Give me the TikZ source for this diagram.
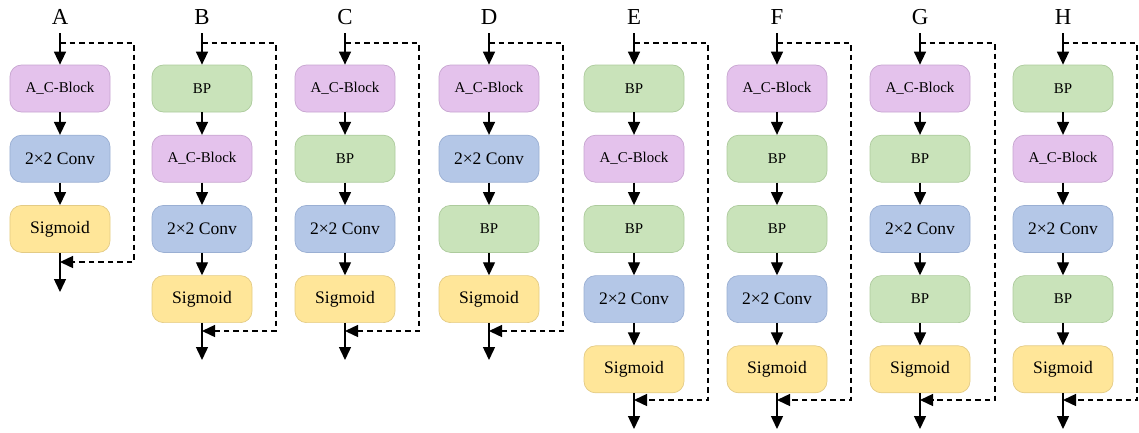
\documentclass[tikz,border=0pt]{standalone}
\usepackage{fontspec}
\setmainfont{Liberation Serif}
\usetikzlibrary{positioning,arrows.meta}
\definecolor{acbfill}{HTML}{E4C2EC}
\definecolor{acbline}{HTML}{C7A5D0}
\definecolor{convfill}{HTML}{B4C7E7}
\definecolor{convline}{HTML}{9AAFD3}
\definecolor{bpfill}{HTML}{C9E3BA}
\definecolor{bpline}{HTML}{ADCB9D}
\definecolor{sigfill}{HTML}{FFE699}
\definecolor{sigline}{HTML}{E3CB85}

\begin{document}
\begin{tikzpicture}[x=0.2mm,y=-0.2mm,node distance=4.5mm,
  blk/.style={rectangle,rounded corners=2.3mm,minimum width=20mm,minimum height=9.4mm,inner sep=1pt,line width=0.4pt},
  acb/.style={blk,draw=acbline,fill=acbfill,font=\fontsize{8.5}{10}\selectfont},
  conv/.style={blk,draw=convline,fill=convfill,font=\fontsize{10}{12}\selectfont},
  bp/.style={blk,draw=bpline,fill=bpfill,font=\fontsize{8.5}{10}\selectfont},
  sig/.style={blk,draw=sigline,fill=sigfill,font=\fontsize{10}{12}\selectfont},
  lab/.style={font=\fontsize{13}{15}\selectfont,inner sep=0pt},
  flow/.style={line width=0.8pt,-{Triangle[length=2.6mm,width=2.4mm]}},
  skip/.style={flow,dash pattern=on 1.1mm off 0.8mm}]
  \useasboundingbox (0,0) rectangle (1139,432);

  % A
  \node[lab] (Al) at (60,17) {A};
  \coordinate (Ain) at (60,33);
  \coordinate (As) at (60,43);
  \node[acb] (A1) at (60,88.5) {A\_C-Block};
  \node[conv,below=of A1] (A2) {2×2 Conv};
  \node[sig,below=of A2] (A3) {Sigmoid};
  \coordinate (Ar) at (60,262);
  \coordinate (Aout) at (60,292);
  \draw[flow] (Ain) -- (A1);
  \draw[flow] (A1) -- (A2);
  \draw[flow] (A2) -- (A3);
  \draw[flow] (A3) -- (Aout);
  \draw[skip] (As) -- ++(74,0) |- (Ar);

  % B
  \node[lab] (Bl) at (202,17) {B};
  \coordinate (Bin) at (202,33);
  \coordinate (Bs) at (202,43);
  \node[bp] (B1) at (202,88.5) {BP};
  \node[acb,below=of B1] (B2) {A\_C-Block};
  \node[conv,below=of B2] (B3) {2×2 Conv};
  \node[sig,below=of B3] (B4) {Sigmoid};
  \coordinate (Br) at (202,331);
  \coordinate (Bout) at (202,360);
  \draw[flow] (Bin) -- (B1);
  \draw[flow] (B1) -- (B2);
  \draw[flow] (B2) -- (B3);
  \draw[flow] (B3) -- (B4);
  \draw[flow] (B4) -- (Bout);
  \draw[skip] (Bs) -- ++(74,0) |- (Br);

  % C
  \node[lab] (Cl) at (345,17) {C};
  \coordinate (Cin) at (345,33);
  \coordinate (Cs) at (345,43);
  \node[acb] (C1) at (345,88.5) {A\_C-Block};
  \node[bp,below=of C1] (C2) {BP};
  \node[conv,below=of C2] (C3) {2×2 Conv};
  \node[sig,below=of C3] (C4) {Sigmoid};
  \coordinate (Cr) at (345,331);
  \coordinate (Cout) at (345,360);
  \draw[flow] (Cin) -- (C1);
  \draw[flow] (C1) -- (C2);
  \draw[flow] (C2) -- (C3);
  \draw[flow] (C3) -- (C4);
  \draw[flow] (C4) -- (Cout);
  \draw[skip] (Cs) -- ++(74,0) |- (Cr);

  % D
  \node[lab] (Dl) at (489,17) {D};
  \coordinate (Din) at (489,33);
  \coordinate (Ds) at (489,43);
  \node[acb] (D1) at (489,88.5) {A\_C-Block};
  \node[conv,below=of D1] (D2) {2×2 Conv};
  \node[bp,below=of D2] (D3) {BP};
  \node[sig,below=of D3] (D4) {Sigmoid};
  \coordinate (Dr) at (489,331);
  \coordinate (Dout) at (489,360);
  \draw[flow] (Din) -- (D1);
  \draw[flow] (D1) -- (D2);
  \draw[flow] (D2) -- (D3);
  \draw[flow] (D3) -- (D4);
  \draw[flow] (D4) -- (Dout);
  \draw[skip] (Ds) -- ++(74,0) |- (Dr);

  % E
  \node[lab] (El) at (634,17) {E};
  \coordinate (Ein) at (634,33);
  \coordinate (Es) at (634,43);
  \node[bp] (E1) at (634,88.5) {BP};
  \node[acb,below=of E1] (E2) {A\_C-Block};
  \node[bp,below=of E2] (E3) {BP};
  \node[conv,below=of E3] (E4) {2×2 Conv};
  \node[sig,below=of E4] (E5) {Sigmoid};
  \coordinate (Er) at (634,400);
  \coordinate (Eout) at (634,429);
  \draw[flow] (Ein) -- (E1);
  \draw[flow] (E1) -- (E2);
  \draw[flow] (E2) -- (E3);
  \draw[flow] (E3) -- (E4);
  \draw[flow] (E4) -- (E5);
  \draw[flow] (E5) -- (Eout);
  \draw[skip] (Es) -- ++(74,0) |- (Er);

  % F
  \node[lab] (Fl) at (777,17) {F};
  \coordinate (Fin) at (777,33);
  \coordinate (Fs) at (777,43);
  \node[acb] (F1) at (777,88.5) {A\_C-Block};
  \node[bp,below=of F1] (F2) {BP};
  \node[bp,below=of F2] (F3) {BP};
  \node[conv,below=of F3] (F4) {2×2 Conv};
  \node[sig,below=of F4] (F5) {Sigmoid};
  \coordinate (Fr) at (777,400);
  \coordinate (Fout) at (777,429);
  \draw[flow] (Fin) -- (F1);
  \draw[flow] (F1) -- (F2);
  \draw[flow] (F2) -- (F3);
  \draw[flow] (F3) -- (F4);
  \draw[flow] (F4) -- (F5);
  \draw[flow] (F5) -- (Fout);
  \draw[skip] (Fs) -- ++(74,0) |- (Fr);

  % G
  \node[lab] (Gl) at (920,17) {G};
  \coordinate (Gin) at (920,33);
  \coordinate (Gs) at (920,43);
  \node[acb] (G1) at (920,88.5) {A\_C-Block};
  \node[bp,below=of G1] (G2) {BP};
  \node[conv,below=of G2] (G3) {2×2 Conv};
  \node[bp,below=of G3] (G4) {BP};
  \node[sig,below=of G4] (G5) {Sigmoid};
  \coordinate (Gr) at (920,400);
  \coordinate (Gout) at (920,429);
  \draw[flow] (Gin) -- (G1);
  \draw[flow] (G1) -- (G2);
  \draw[flow] (G2) -- (G3);
  \draw[flow] (G3) -- (G4);
  \draw[flow] (G4) -- (G5);
  \draw[flow] (G5) -- (Gout);
  \draw[skip] (Gs) -- ++(75,0) |- (Gr);

  % H
  \node[lab] (Hl) at (1063,17) {H};
  \coordinate (Hin) at (1063,33);
  \coordinate (Hs) at (1063,43);
  \node[bp] (H1) at (1063,88.5) {BP};
  \node[acb,below=of H1] (H2) {A\_C-Block};
  \node[conv,below=of H2] (H3) {2×2 Conv};
  \node[bp,below=of H3] (H4) {BP};
  \node[sig,below=of H4] (H5) {Sigmoid};
  \coordinate (Hr) at (1063,400);
  \coordinate (Hout) at (1063,429);
  \draw[flow] (Hin) -- (H1);
  \draw[flow] (H1) -- (H2);
  \draw[flow] (H2) -- (H3);
  \draw[flow] (H3) -- (H4);
  \draw[flow] (H4) -- (H5);
  \draw[flow] (H5) -- (Hout);
  \draw[skip] (Hs) -- ++(74,0) |- (Hr);
\end{tikzpicture}
\end{document}
